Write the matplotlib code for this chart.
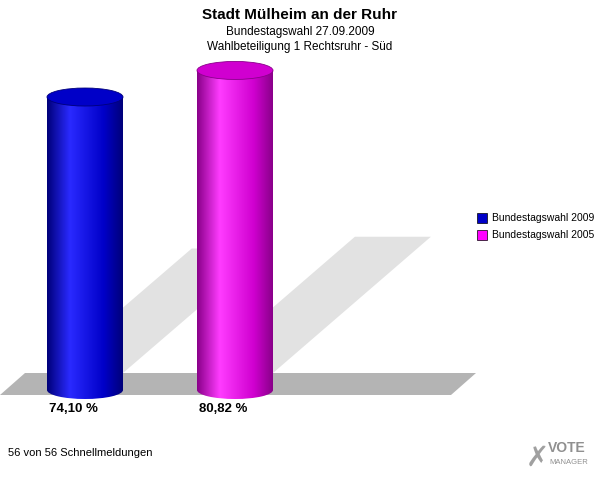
import matplotlib
matplotlib.use("Agg")
import matplotlib.pyplot as plt
import numpy as np
from matplotlib.patches import Polygon, Ellipse, Rectangle, PathPatch
from matplotlib.colors import LinearSegmentedColormap
from matplotlib.path import Path

categories = ["Bundestagswahl 2009", "Bundestagswahl 2005"]
values = [74.10, 80.82]
labels = ["74,10 %", "80,82 %"]
colors = [("#00007a", "#2a2aff", "#0000c8"), ("#8a008a", "#ff3cff", "#d000d0")]
centers = [85, 235]

fig = plt.figure(figsize=(6, 4.8), dpi=100)
ax = fig.add_axes([0, 0, 1, 1])
ax.set_xlim(0, 600); ax.set_ylim(480, 0); ax.axis("off")

base = 390
k = 3.954
w = 76
eh = 18

for c, v in zip(centers, values):
    h = v * k
    s = h * 0.52
    ax.add_patch(Polygon([(c - w/2, base - 17), (c + w/2, base - 17),
                          (c + w/2 + s*0.95, base - 17 - s*0.85 + 5), (c - w/2 + s*0.95, base - 17 - s*0.85 + 5)],
                         closed=True, fc="#e2e2e2", ec="none", zorder=1))
ax.add_patch(Polygon([(0, 395), (25, 373), (476, 373), (451, 395)], closed=True, fc="#b4b4b4", ec="none", zorder=2))

for c, v, col, lab in zip(centers, values, colors, labels):
    h = v * k
    top = base - h
    cmap = LinearSegmentedColormap.from_list("c", [(0, col[0]), (0.3, col[1]), (0.75, col[2]), (1, col[0])])
    grad = np.linspace(0, 1, 200).reshape(1, -1)
    im = ax.imshow(grad, cmap=cmap, extent=(c - w/2, c + w/2, base + eh/2, top), aspect="auto", zorder=3)
    body = Rectangle((c - w/2, top), w, h)
    bot = Ellipse((c, base), w, eh)
    p = Path.make_compound_path(body.get_path().transformed(body.get_patch_transform()),
                                bot.get_path().transformed(bot.get_patch_transform()))
    clip = PathPatch(p, transform=ax.transData, fc="none", ec="none")
    ax.add_patch(clip)
    im.set_clip_path(clip)
    ax.add_patch(Ellipse((c, top), w, eh, fc=col[2], ec=col[0], lw=0.6, zorder=4))
    ax.text(c - 12, 409, lab, ha="center", va="center", fontsize=9.5, fontweight="bold", family="Liberation Sans")

ax.text(300, 15, "Stadt Mülheim an der Ruhr", ha="center", va="center", fontsize=11, fontweight="bold", family="Liberation Sans")
ax.text(300, 32, "Bundestagswahl 27.09.2009", ha="center", va="center", fontsize=8.5, family="Liberation Sans")
ax.text(300, 47, "Wahlbeteiligung 1 Rechtsruhr - Süd", ha="center", va="center", fontsize=8.5, family="Liberation Sans")

for i, (cat, col) in enumerate(zip(categories, colors)):
    y = 218 + i*17
    ax.add_patch(Rectangle((477, y - 5), 10, 10, fc=col[2] if i == 0 else "#ff00ff", ec="black", lw=0.5))
    ax.text(492, y, cat, va="center", fontsize=7.5, family="Liberation Sans")

ax.text(8, 453, "56 von 56 Schnellmeldungen", va="center", fontsize=8, family="Liberation Sans")
ax.text(548, 448, "VOTE", va="center", fontsize=10, fontweight="bold", color="#909090", family="Liberation Sans")
ax.text(549, 463, "MANAGER", va="center", fontsize=5.5, color="#909090", family="Liberation Sans")
ax.text(537, 458, "✗", ha="center", va="center", fontsize=20, color="#a0a0a0")

fig.savefig("out.png", dpi=100)
